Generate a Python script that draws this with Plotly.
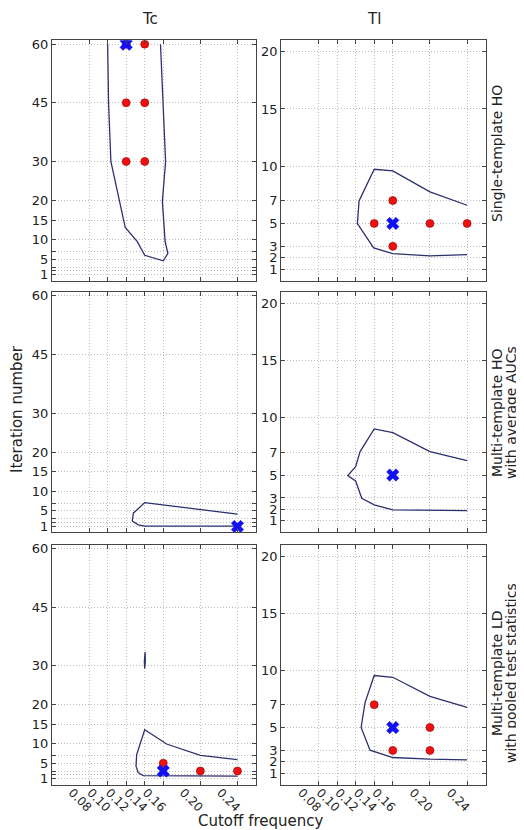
import plotly.graph_objects as go

W, H = 524, 830

# ---------------- data ----------------
x_ticks = [0.08, 0.10, 0.12, 0.14, 0.16, 0.20, 0.24]
x_tick_text = ["0.08", "0.10", "0.12", "0.14", "0.16", "0.20", "0.24"]
tc_yticks = [1, 2, 3, 5, 7, 10, 15, 20, 30, 45, 60]
tc_ytext = ["1", "", "", "5", "", "10", "15", "20", "30", "45", "60"]
tl_yticks = [1, 2, 3, 5, 7, 10, 15, 20]
tl_ytext = ["1", "2", "3", "5", "7", "10", "15", "20"]

col_titles = ["Tc", "Tl"]
row_titles = [["Single-template HO"],
              ["Multi-template HO", "with average AUCs"],
              ["Multi-template LD", "with pooled test statistics"]]

# Row 1: Single-template HO
tc_st_cx = [0.100, 0.101, 0.1035, 0.119, 0.132, 0.140, 0.160, 0.165, 0.162, 0.159, 0.1625, 0.157]
tc_st_cy = [60, 45, 30, 13.1, 9.5, 6.0, 4.6, 6.5, 9.5, 19.8, 30, 60]
tc_st_rx = [0.12, 0.14, 0.12, 0.14, 0.12, 0.14]
tc_st_ry = [60, 60, 45, 45, 30, 30]
tc_st_bx = [0.12]
tc_st_by = [60]

tl_st_cx = [0.24, 0.20, 0.16, 0.14, 0.1237, 0.1219, 0.1394, 0.16, 0.20, 0.24]
tl_st_cy = [6.59, 7.76, 9.59, 9.73, 6.97, 4.99, 2.87, 2.37, 2.17, 2.28]
tl_st_rx = [0.14, 0.16, 0.16, 0.20, 0.24]
tl_st_ry = [5, 7, 3, 5, 5]
tl_st_bx = [0.16]
tl_st_by = [5]

# Row 2: Multi-template HO with average AUCs
tc_ma_cx = [0.24, 0.14, 0.1277, 0.1266, 0.133, 0.14, 0.24]
tc_ma_cy = [4.14, 7.1, 4.4, 2.4, 1.4, 1.1, 1.1]
tc_ma_rx = []
tc_ma_ry = []
tc_ma_bx = [0.24]
tc_ma_by = [1]

tl_ma_cx = [0.24, 0.20, 0.16, 0.14, 0.1248, 0.12, 0.1115, 0.12, 0.1266, 0.14, 0.16, 0.20, 0.24]
tl_ma_cy = [6.27, 7.05, 8.71, 9.03, 7.05, 5.74, 4.96, 4.49, 2.98, 2.40, 1.96, 1.90, 1.90]
tl_ma_rx = []
tl_ma_ry = []
tl_ma_bx = [0.16]
tl_ma_by = [5]

# Row 3: Multi-template LD with pooled test statistics
tc_ld_cx = [0.24, 0.20, 0.1636, 0.14, 0.1313, 0.1306, 0.1331, 0.1385, 0.24]
tc_ld_cy = [5.93, 7.04, 9.93, 13.6, 7.2, 4.23, 2.53, 1.85, 1.68]
tc_ld_islx = [0.1400, 0.1406, 0.1404, 0.1398, 0.1396, 0.1400]
tc_ld_isly = [29.3, 31.0, 33.5, 32.5, 31.0, 29.3]
tc_ld_rx = [0.16, 0.20, 0.24]
tc_ld_ry = [5, 3, 3]
tc_ld_bx = [0.16]
tc_ld_by = [3]

tl_ld_cx = [0.24, 0.20, 0.16, 0.14, 0.1302, 0.1259, 0.1355, 0.16, 0.20, 0.24]
tl_ld_cy = [6.77, 7.73, 9.40, 9.55, 7.21, 5.01, 3.02, 2.38, 2.23, 2.17]
tl_ld_rx = [0.14, 0.16, 0.20, 0.20]
tl_ld_ry = [7, 3, 5, 3]
tl_ld_bx = [0.16]
tl_ld_by = [5]

panels = [
    (tc_st_cx, tc_st_cy, tc_st_rx, tc_st_ry, tc_st_bx, tc_st_by),
    (tl_st_cx, tl_st_cy, tl_st_rx, tl_st_ry, tl_st_bx, tl_st_by),
    (tc_ma_cx, tc_ma_cy, tc_ma_rx, tc_ma_ry, tc_ma_bx, tc_ma_by),
    (tl_ma_cx, tl_ma_cy, tl_ma_rx, tl_ma_ry, tl_ma_bx, tl_ma_by),
    (tc_ld_cx, tc_ld_cy, tc_ld_rx, tc_ld_ry, tc_ld_bx, tc_ld_by),
    (tl_ld_cx, tl_ld_cy, tl_ld_rx, tl_ld_ry, tl_ld_bx, tl_ld_by),
]

# ---------------- layout geometry (pixels) ----------------
col_px = [(44, 248), (273.3, 477.7)]
row_px = [(32.3, 272.7), (284.0, 524.3), (536.7, 776.7)]

LINE_C = "#2d3070"
RED = "#ee1111"
BLUE = "#1010f0"
FONT = "DejaVu Sans"

fig = go.Figure()
layout = dict(
    width=W, height=H,
    margin=dict(l=0, r=0, t=0, b=0),
    paper_bgcolor="white", plot_bgcolor="white",
    showlegend=False,
    font=dict(family=FONT, size=13, color="#222222"),
)

for i, (cx, cy, rx, ry, bx, by) in enumerate(panels):
    r, c = divmod(i, 2)
    n = i + 1
    xa = "x" if n == 1 else f"x{n}"
    ya = "y" if n == 1 else f"y{n}"
    fig.add_trace(go.Scatter(x=cx, y=cy, mode="lines", xaxis=xa, yaxis=ya,
                             line=dict(color=LINE_C, width=1.3), hoverinfo="skip"))
    if i == 4:
        fig.add_trace(go.Scatter(x=tc_ld_islx, y=tc_ld_isly, mode="lines", xaxis=xa, yaxis=ya,
                                 fill="toself", fillcolor=LINE_C,
                                 line=dict(color=LINE_C, width=1.3), hoverinfo="skip"))
    if rx:
        fig.add_trace(go.Scatter(x=rx, y=ry, mode="markers", xaxis=xa, yaxis=ya,
                                 marker=dict(color=RED, size=8, line=dict(color="#990000", width=0.6))))
    fig.add_trace(go.Scatter(x=bx, y=by, mode="markers", xaxis=xa, yaxis=ya,
                             marker=dict(color=BLUE, size=11, symbol="x",
                                         line=dict(color=BLUE, width=0.5))))

    x0, x1 = col_px[c]
    y0, y1 = row_px[r]
    common = dict(showgrid=True, gridcolor="#bdbdbd", griddash="1px,2px", gridwidth=1,
                  showline=True, linecolor="#444444", linewidth=1.3, mirror="ticks",
                  ticks="inside", ticklen=4, tickcolor="#444444", zeroline=False,
                  automargin=False, tickfont=dict(family=FONT, size=13, color="#222222"))
    xaxis = dict(common, domain=[x0 / W, x1 / W], range=[0.04, 0.26],
                 tickmode="array", tickvals=x_ticks, ticktext=x_tick_text,
                 anchor=ya, showticklabels=(r == 2))
    if r == 2:
        xaxis.update(tickangle=45, ticklabelshift=-17, ticklabelstandoff=-5,
                     tickfont=dict(family=FONT, size=12, color="#222222"))
    if c == 0:
        yaxis = dict(common, domain=[1 - y1 / H, 1 - y0 / H], range=[-0.5, 61],
                     tickmode="array", tickvals=tc_yticks, ticktext=tc_ytext, anchor=xa)
    else:
        yaxis = dict(common, domain=[1 - y1 / H, 1 - y0 / H], range=[0, 21],
                     tickmode="array", tickvals=tl_yticks, ticktext=tl_ytext, anchor=xa)
    layout["xaxis" if n == 1 else f"xaxis{n}"] = xaxis
    layout["yaxis" if n == 1 else f"yaxis{n}"] = yaxis

ann = []
# column titles
for t, xc in zip(col_titles, [142, 366]):
    ann.append(dict(text=t, x=xc / W, y=1 - 11 / H, xref="paper", yref="paper",
                    showarrow=False, font=dict(size=15), xanchor="center", yanchor="middle"))
# row titles (one annotation per text line)
line_x = [489, 503]
for lines, yc in zip(row_titles, [146, 405, 665]):
    for k, t in enumerate(lines):
        ann.append(dict(text=t, x=line_x[k] / W, y=1 - yc / H, xref="paper", yref="paper",
                        showarrow=False, textangle=-90, font=dict(size=14),
                        xanchor="center", yanchor="middle"))
ann.append(dict(text="Iteration number", x=9 / W, y=1 - 401 / H, xref="paper", yref="paper",
                showarrow=False, textangle=-90, font=dict(size=15),
                xanchor="center", yanchor="middle"))
ann.append(dict(text="Cutoff frequency", x=252 / W, y=1 - 813 / H, xref="paper", yref="paper",
                showarrow=False, font=dict(size=15), xanchor="center", yanchor="middle"))
layout["annotations"] = ann

fig.update_layout(**layout)
fig.write_html("out.html")
